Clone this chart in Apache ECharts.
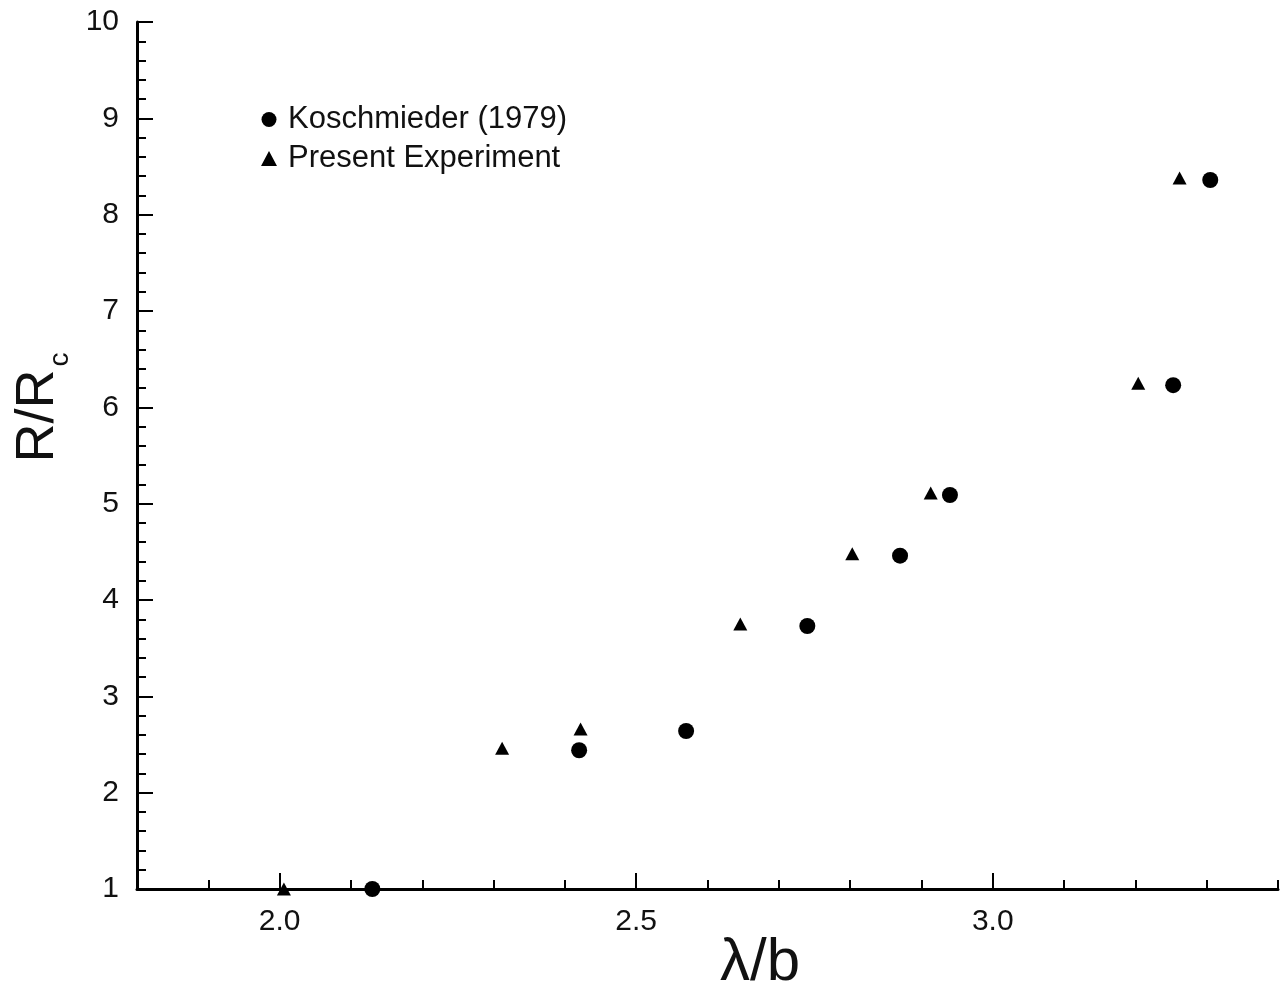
<!DOCTYPE html>
<html>
<head>
<meta charset="utf-8">
<script src="https://cdn.jsdelivr.net/npm/echarts@6/dist/echarts.min.js"></script>
<style>html,body{margin:0;padding:0;background:#fff;overflow:hidden}#c{width:1283px;height:991px}</style>
</head>
<body>
<div id="c"></div>
<script>
const koschX = [2.13, 2.42, 2.57, 2.74, 2.87, 2.94, 3.253, 3.305];
const koschY = [1.0, 2.44, 2.64, 3.73, 4.46, 5.09, 6.23, 8.36];
const presX = [2.006, 2.312, 2.422, 2.646, 2.803, 2.913, 3.204, 3.262];
const presY = [1.0, 2.46, 2.66, 3.75, 4.48, 5.11, 6.25, 8.38];
const xMajorTicks = [2.0, 2.5, 3.0];
const seriesNames = ['Koschmieder (1979)', 'Present Experiment'];

const FONT = '"Liberation Sans", Arial, Helvetica, sans-serif';
const el = document.getElementById('c');
const chart = echarts.init(el);
chart.setOption({
  animation: false,
  backgroundColor: '#fff',
  grid: { left: 137, right: 5, top: 22, bottom: 102, containLabel: false, outerBoundsMode: 'none' },
  legend: {
    orient: 'vertical', left: 256, top: 99, itemGap: 8,
    itemWidth: 16, itemHeight: 15,
    textStyle: { fontFamily: FONT, fontSize: 31, color: '#111', padding: [0, 0, 0, 6] },
    data: [{ name: seriesNames[0], icon: 'circle' }, { name: seriesNames[1], icon: 'triangle' }]
  },
  xAxis: [{
    type: 'value', min: 1.8, max: 3.4,
    axisLine: { show: true, lineStyle: { color: '#000', width: 3 } },
    axisTick: { show: true, inside: true, length: 16, customValues: xMajorTicks, lineStyle: { color: '#000', width: 2 } },
    axisLabel: { customValues: xMajorTicks, formatter: v => v.toFixed(1), fontFamily: FONT, fontSize: 30, color: '#111', margin: 18 },
    splitLine: { show: false },
    name: 'λ/b', nameLocation: 'middle', nameGap: 44, nameMoveOverlap: false,
    nameTextStyle: { fontFamily: FONT, fontSize: 60, color: '#111', padding: [0, 0, 0, 105] }
  }, {
    type: 'value', min: 1.8, max: 3.4, interval: 0.1, position: 'bottom',
    axisLine: { show: false },
    axisTick: { show: true, inside: true, length: 9, lineStyle: { color: '#000', width: 2 } },
    axisLabel: { show: false }, splitLine: { show: false }
  }],
  yAxis: {
    type: 'value', min: 1, max: 10, interval: 1,
    axisLine: { show: true, lineStyle: { color: '#000', width: 3 } },
    axisTick: { show: true, inside: true, length: 16, lineStyle: { color: '#000', width: 2 } },
    minorTick: { show: true, splitNumber: 5, length: 9, lineStyle: { color: '#000', width: 2 } },
    axisLabel: { fontFamily: FONT, fontSize: 30, color: '#111', margin: 18 },
    splitLine: { show: false },
    name: '{a|R/R}{s|c}', nameLocation: 'middle', nameRotate: 90, nameGap: 58,
    nameTextStyle: {
      padding: [0, 0, 0, 96],
      rich: {
        a: { fontFamily: FONT, fontSize: 54, color: '#111' },
        s: { fontFamily: FONT, fontSize: 28, color: '#111', padding: [46, 0, 0, 3] }
      }
    }
  },
  series: [{
    name: seriesNames[0], type: 'scatter', symbol: 'circle', symbolSize: 16, clip: false,
    itemStyle: { color: '#000', opacity: 1 },
    data: koschX.map((x, i) => [x, koschY[i]])
  }, {
    name: seriesNames[1], type: 'scatter', symbol: 'triangle', symbolSize: [14, 13], clip: false,
    itemStyle: { color: '#000', opacity: 1 },
    data: presX.map((x, i) => [x, presY[i]])
  }]
});
</script>
</body>
</html>
